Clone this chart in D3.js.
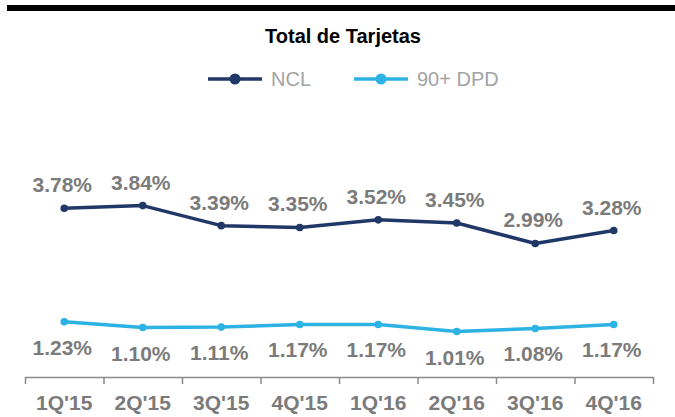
<!DOCTYPE html>
<html>
<head>
<meta charset="utf-8">
<script src="https://cdn.jsdelivr.net/npm/d3@7"></script>
<style>
  body { margin: 0; background: #fff; }
  svg { display: block; font-family: Arial, "Liberation Sans", sans-serif; }
</style>
</head>
<body>
<svg id="chart" width="675" height="417"></svg>
<script>
// quarters on the x axis
const quarters = ["1Q'15", "2Q'15", "3Q'15", "4Q'15", "1Q'16", "2Q'16", "3Q'16", "4Q'16"];
// NCL ratio (%)
const ncl = [3.78, 3.84, 3.39, 3.35, 3.52, 3.45, 2.99, 3.28];
// 90+ days past due (%)
const dpd = [1.23, 1.10, 1.11, 1.17, 1.17, 1.01, 1.08, 1.17];

const seriesNames = ['NCL', '90+ DPD'];
const colors = ['#1f3868', '#2cb3e3'];

const svg = d3.select('#chart');

// top black rule
svg.append('rect')
    .attr('x', 7).attr('y', 5)
    .attr('width', 668).attr('height', 6)
    .attr('fill', '#000');

// title
svg.append('text')
    .attr('x', 343).attr('y', 43)
    .attr('text-anchor', 'middle')
    .style('font-size', '20px')
    .style('font-weight', 'bold')
    .attr('fill', '#000')
    .text('Total de Tarjetas');

// legend
const legendX = [208, 354];
const legend = svg.append('g');
seriesNames.forEach((name, i) => {
    const g = legend.append('g').attr('transform', `translate(${legendX[i]},79)`);
    g.append('line')
        .attr('x1', 0).attr('x2', 54)
        .attr('stroke', colors[i])
        .attr('stroke-width', 3.5);
    g.append('circle')
        .attr('cx', 27).attr('r', 5.5)
        .attr('fill', colors[i]);
    g.append('text')
        .attr('x', 63).attr('y', 7)
        .style('font-size', '20px')
        .attr('fill', '#a3a3a3')
        .text(name);
});

// scales
const x = d3.scaleBand().domain(quarters).range([25, 653]);
const xEdge = d3.scaleLinear().domain([0, quarters.length]).range([25, 653]);
const y = d3.scaleLinear().domain([0, 6]).range([376.5, 109.5]);

// axis line with ticks between the quarters
svg.append('g')
    .attr('transform', 'translate(0,377)')
    .call(d3.axisBottom(xEdge)
        .tickValues(d3.range(1, quarters.length))
        .tickFormat('')
        .tickSize(7)
        .tickSizeOuter(7))
    .call(g => g.selectAll('path, line')
        .attr('stroke', '#8a8a8a')
        .attr('stroke-width', 1.5));

// quarter labels
svg.append('g')
    .attr('transform', 'translate(0,377)')
    .call(d3.axisBottom(x).tickSize(0).tickPadding(0))
    .call(g => g.select('.domain').remove())
    .call(g => g.selectAll('text')
        .attr('dy', 0)
        .attr('y', 33)
        .attr('fill', '#7b7b7b')
        .style('font-size', '21px')
        .style('font-weight', 'bold')
        .style('font-family', 'Arial, "Liberation Sans", sans-serif'));

const cx = (d, i) => x(quarters[i]) + x.bandwidth() / 2;

const line = d3.line()
    .x((d, i) => cx(d, i))
    .y(d => y(d));

const series = [
    { values: ncl, color: colors[0], dy: -16 },
    { values: dpd, color: colors[1], dy: 33 }
];

series.forEach(s => {
    const g = svg.append('g');
    g.append('path')
        .datum(s.values)
        .attr('d', line)
        .attr('fill', 'none')
        .attr('stroke', s.color)
        .attr('stroke-width', 3.5)
        .attr('stroke-linejoin', 'round');

    g.selectAll('circle')
        .data(s.values)
        .join('circle')
        .attr('cx', cx)
        .attr('cy', d => y(d))
        .attr('r', 3.8)
        .attr('fill', s.color);

    g.selectAll('text')
        .data(s.values)
        .join('text')
        .attr('x', (d, i) => cx(d, i) - 2)
        .attr('y', d => y(d) + s.dy)
        .attr('text-anchor', 'middle')
        .attr('fill', '#7b7b7b')
        .style('font-size', '21px')
        .style('font-weight', 'bold')
        .text(d => d.toFixed(2) + '%');
});
</script>
</body>
</html>
